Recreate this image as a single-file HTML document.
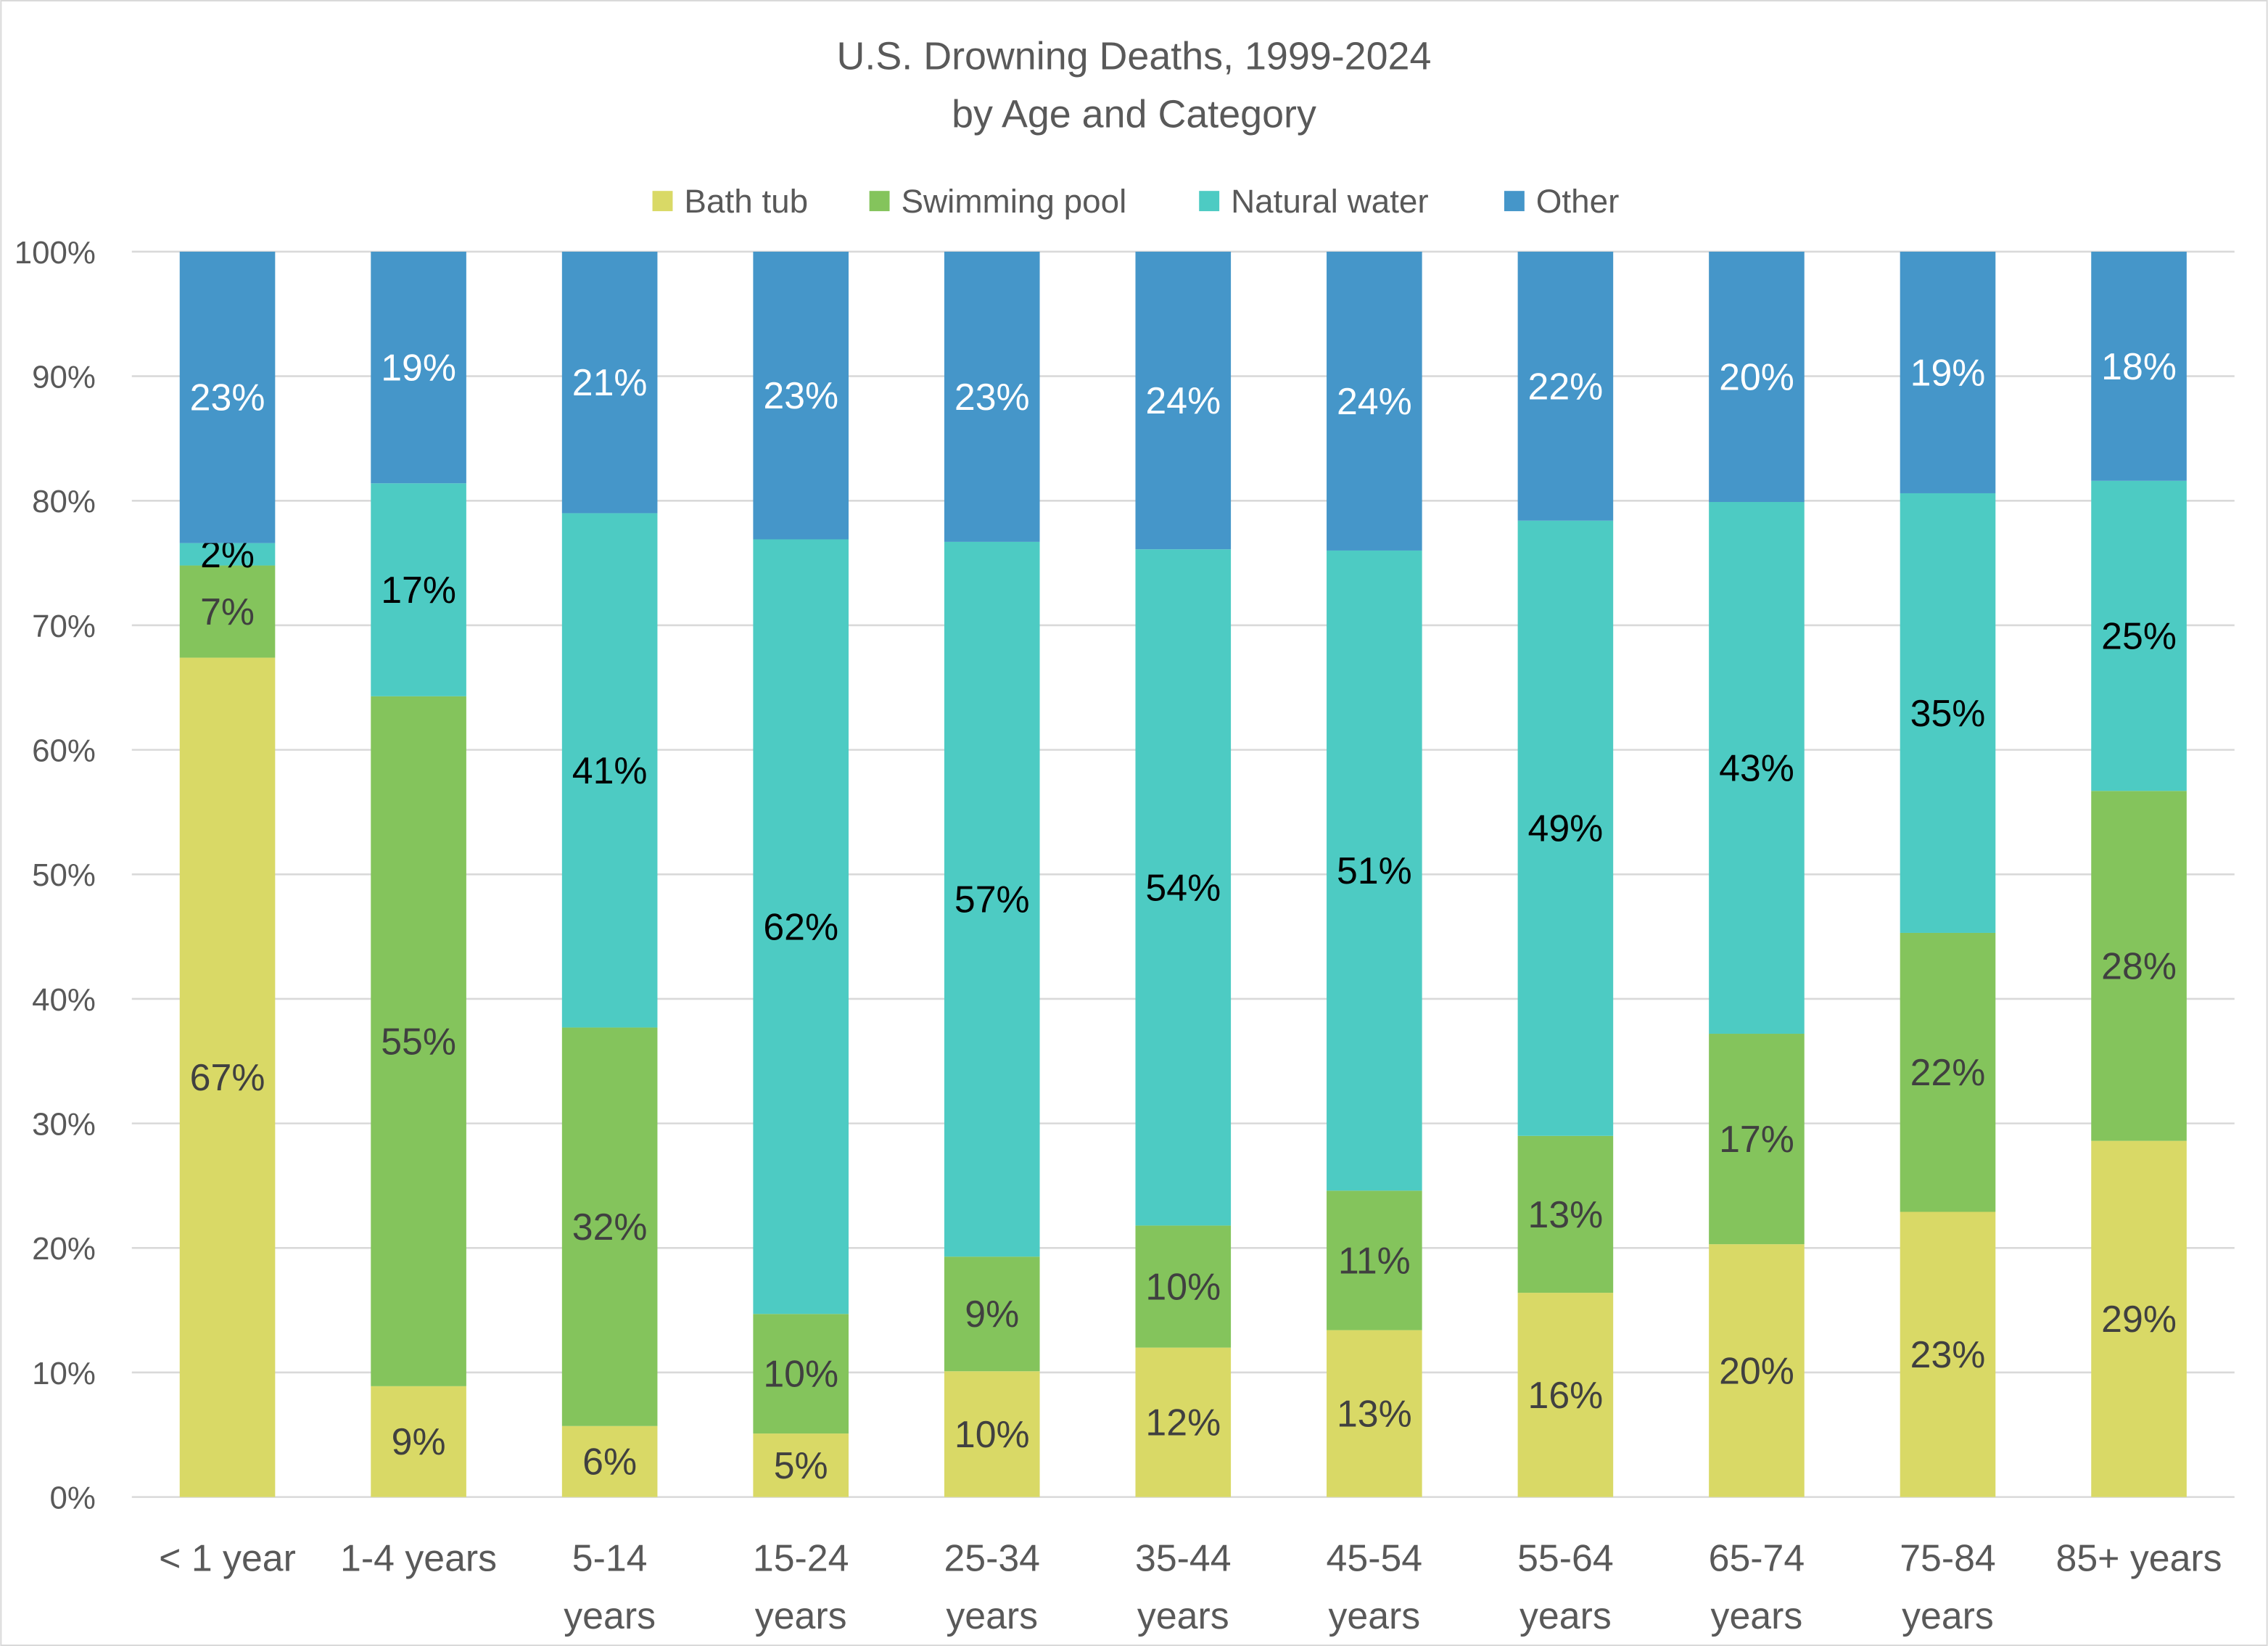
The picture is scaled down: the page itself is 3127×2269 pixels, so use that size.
<!DOCTYPE html>
<html><head><meta charset="utf-8"><style>
html,body{margin:0;padding:0;background:#fff;}
svg{display:block;font-family:"Liberation Sans","DejaVu Sans",sans-serif;}
</style></head><body>
<svg id="chart" width="3127" height="2269" viewBox="0 0 1568 1138" xmlns="http://www.w3.org/2000/svg">
<rect x="0.5" y="0.5" width="1567" height="1137" fill="#fff" stroke="#d9d9d9"/>
<text x="784" y="48" text-anchor="middle" font-size="27" fill="#595959">U.S. Drowning Deaths, 1999-2024</text>
<text x="784" y="88" text-anchor="middle" font-size="27" fill="#595959">by Age and Category</text>
<g id="legend"></g>
<g id="grid"></g>
<g id="yticks"></g>
<g id="bars"></g>
<g id="xlabels"></g>
</svg>
<script>
const categories = [["< 1 year"],["1-4 years"],["5-14","years"],["15-24","years"],["25-34","years"],["35-44","years"],["45-54","years"],["55-64","years"],["65-74","years"],["75-84","years"],["85+ years"]];
const bathTub = [67.4, 8.9, 5.7, 5.1, 10.1, 12.0, 13.4, 16.4, 20.3, 22.9, 28.6];
const swimmingPool = [7.4, 55.4, 32.0, 9.6, 9.2, 9.8, 11.2, 12.6, 16.9, 22.4, 28.1];
const naturalWater = [1.8, 17.1, 41.3, 62.2, 57.4, 54.3, 51.4, 49.4, 42.7, 35.3, 24.9];
const other = [23.4, 18.6, 21.0, 23.1, 23.3, 23.9, 24.0, 21.6, 20.1, 19.4, 18.4];
const yTicks = [0,10,20,30,40,50,60,70,80,90,100];
const seriesNames = ["Bath tub","Swimming pool","Natural water","Other"];

const NS="http://www.w3.org/2000/svg";
const plotL=91, plotR=1545, plotT=174, plotB=1035;
const colors=["#d9d966","#84c45c","#4dcbc3","#4596c9"];
const labelColors=["#404040","#404040","#000000","#ffffff"];
const step=(plotR-plotL)/categories.length, barW=66;
function y(v){return plotB-(plotB-plotT)*v/100;}
function xc(i){return plotL+step*(i+0.5);}
function mk(tag,attrs,parent){const e=document.createElementNS(NS,tag);for(const k in attrs)e.setAttribute(k,attrs[k]);parent.appendChild(e);return e;}
const grid=document.getElementById('grid'), yt=document.getElementById('yticks');
yTicks.forEach(t=>{
  const l=mk('line',{x1:plotL,x2:plotR,y1:y(t),y2:y(t),stroke:'#d9d9d9','stroke-width':1.3},grid);
  
  
  const tx=mk('text',{x:66,y:y(t)+8,'text-anchor':'end','font-size':22,fill:'#595959'},yt);
  tx.textContent=t+'%';
  
  
});
const bars=document.getElementById('bars');
const series=[bathTub,swimmingPool,naturalWater,other];
categories.forEach((c,i)=>{
  let cum=0;
  series.forEach((s,k)=>{
    const v=s[i];
    const r=mk('rect',{x:xc(i)-barW/2,y:y(cum+v),width:barW,height:y(cum)-y(cum+v),fill:colors[k]},bars);
    
    
    const t=mk('text',{x:xc(i),y:(y(cum)+y(cum+v))/2+9,'text-anchor':'middle','font-size':26,fill:labelColors[k]},bars);
    t.textContent=Math.round(v)+'%';
    
    
    cum+=v;
  });
});
const xl=document.getElementById('xlabels');
categories.forEach((c,i)=>{
  c.forEach((line,j)=>{
    const t=mk('text',{x:xc(i),y:1086+j*40,'text-anchor':'middle','font-size':26,fill:'#595959'},xl);
    t.textContent=line;
    
    
  });
});
const lg=document.getElementById('legend');
const lx=[451,601,829,1040];
seriesNames.forEach((n,k)=>{
  const r=mk('rect',{x:lx[k],y:132,width:14,height:14,fill:colors[k]},lg);
  
  
  const t=mk('text',{x:lx[k]+22,y:147,'font-size':23,fill:'#595959'},lg);
  t.textContent=n;
  
  
});
</script>
</body></html>
